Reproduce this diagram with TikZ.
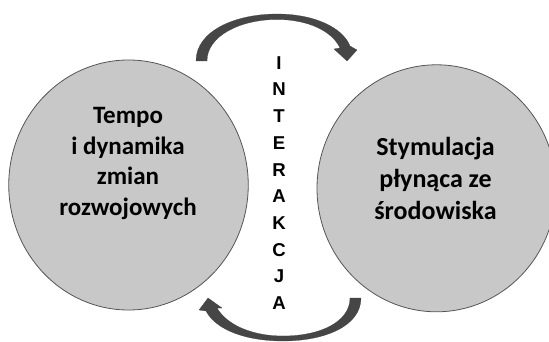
\documentclass[tikz,border=0pt]{standalone}
\usepackage{fontspec}
\newfontfamily\carlito{Carlito}
\newfontfamily\libsans{Liberation Sans}
\usetikzlibrary{shapes.geometric}
\definecolor{circfill}{RGB}{200,200,200}
\definecolor{circline}{RGB}{85,85,85}
\definecolor{arrfill}{RGB}{70,70,70}
\definecolor{arrline}{RGB}{60,60,60}
\begin{document}
\begin{tikzpicture}[x=1pt,y=-1pt,
  bubble/.style={ellipse, draw=circline, fill=circfill, line width=0.8pt, inner sep=0pt},
  bubbletext/.style={align=center, inner sep=0pt, text=black, font=\carlito\bfseries},
  curvedarrow/.style={fill=arrfill, draw=arrline, line width=0.2pt, line join=miter},
  vertword/.style={align=center, inner sep=0pt, text=black, font=\libsans\bfseries\fontsize{18.6}{26.7}\selectfont}]
\useasboundingbox (0,0) rectangle (549,342);
% circles
\node[bubble, minimum width=239.5pt, minimum height=250pt] (lc) at (128.5,185) {};
\node[bubble, minimum width=239pt, minimum height=247pt] (rc) at (436.5,188.3) {};
% texts
\node[bubbletext, font=\carlito\bfseries\fontsize{25}{30.8}\selectfont, anchor=base] (lt) at (128,215.7)
  {Tempo\\i dynamika\\zmian\\rozwojowych};
\node[bubbletext, font=\carlito\bfseries\fontsize{26}{31.8}\selectfont, anchor=base] (rt) at (435.5,219.3)
  {Stymulacja\\płynąca ze\\środowiska};
\node[vertword, anchor=base] (iw) at (279,309.5) {I\\N\\T\\E\\R\\A\\K\\C\\J\\A};
% top curved arrow
\draw[curvedarrow] (196,61) .. controls (196,31) and (235,14) .. (277,14)
  .. controls (315,14) and (343,28) .. (350,46)
  -- (357,50) -- (347,61) -- (334,49) -- (340,48)
  .. controls (332,31) and (308,19.5) .. (277,19.5)
  .. controls (240,19.5) and (207,36) .. (207,61) -- cycle;
% bottom curved arrow
\draw[curvedarrow] (361,298) .. controls (361,326) and (325,341) .. (283,341)
  .. controls (246,341) and (216,330) .. (206,311)
  -- (199,310) -- (208,298) -- (222,308) -- (217,308)
  .. controls (227,325) and (252,336) .. (283,336)
  .. controls (320,336) and (350,322) .. (350,298) -- cycle;
\end{tikzpicture}
\end{document}
